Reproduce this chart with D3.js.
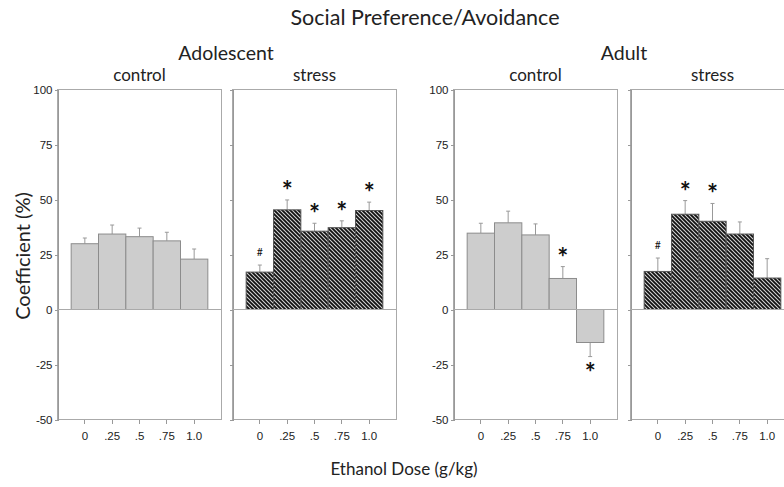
<!DOCTYPE html>
<html>
<head>
<meta charset="utf-8">
<script src="https://cdn.jsdelivr.net/npm/d3@7"></script>
<style>
  body { margin: 0; background: #fff; }
  svg { display: block; font-family: Lato, "Open Sans", sans-serif; }
  .axis path, .axis line { stroke: #999; shape-rendering: crispEdges; }
  .axis text { fill: #222; font-size: 11.5px; }
</style>
</head>
<body>
<svg id="chart" width="784" height="487"></svg>
<script>
// data
var doses = ['0', '.25', '.5', '.75', '1.0'];
var yTicks = [-50, -25, 0, 25, 50, 75, 100];

var adolControl = [29.9, 34.3, 33.1, 31.2, 22.9];
var adolControlErr = [2.6, 4.1, 3.9, 3.9, 4.6];
var adolControlMarks = ['', '', '', '', ''];

var adolStress = [17.0, 45.3, 35.6, 37.2, 45.0];
var adolStressErr = [3.2, 4.5, 3.6, 3.1, 3.8];
var adolStressMarks = ['#', '*', '*', '*', '*'];

var adultControl = [34.7, 39.4, 33.9, 14.1, -15.0];
var adultControlErr = [4.5, 5.3, 5.0, 5.4, 6.4];
var adultControlMarks = ['', '', '', '*', '*'];

var adultStress = [17.3, 43.3, 40.1, 34.3, 14.3];
var adultStressErr = [6.1, 6.2, 8.1, 5.5, 8.8];
var adultStressMarks = ['#', '*', '*', '', ''];

var panels = [
  {label: 'control', left: 57.5, values: adolControl, err: adolControlErr, marks: adolControlMarks, hatched: false, yLabels: true},
  {label: 'stress', left: 232.5, values: adolStress, err: adolStressErr, marks: adolStressMarks, hatched: true, yLabels: false},
  {label: 'control', left: 453.5, values: adultControl, err: adultControlErr, marks: adultControlMarks, hatched: false, yLabels: true},
  {label: 'stress', left: 630.5, values: adultStress, err: adultStressErr, marks: adultStressMarks, hatched: true, yLabels: false}
];

var panelWidth = 164;
var plotTop = 89.5, plotBottom = 419.5;

var svg = d3.select('#chart');

var y = d3.scaleLinear().domain([-50, 100]).range([plotBottom, plotTop]);

// hatch for the stress bars
var defs = svg.append('defs');
var hatch = defs.append('pattern')
  .attr('id', 'hatch')
  .attr('patternUnits', 'userSpaceOnUse')
  .attr('width', 4)
  .attr('height', 4);
hatch.append('rect').attr('width', 4).attr('height', 4).style('fill', '#d4d4d4');
hatch.append('path')
  .attr('d', 'M-1,-1L5,5M-1,3L1,5M3,-1L5,1')
  .style('stroke', '#111')
  .style('stroke-width', 1.8);

// titles
svg.append('text')
  .attr('x', 425).attr('y', 25)
  .attr('text-anchor', 'middle')
  .style('font-size', '21.5px').style('fill', '#222')
  .text('Social Preference/Avoidance');

svg.append('text')
  .attr('x', 226).attr('y', 60)
  .attr('text-anchor', 'middle')
  .style('font-size', '19.5px').style('fill', '#222')
  .text('Adolescent');

svg.append('text')
  .attr('x', 624).attr('y', 60)
  .attr('text-anchor', 'middle')
  .style('font-size', '19.5px').style('fill', '#222')
  .text('Adult');

svg.append('text')
  .attr('x', 404).attr('y', 475)
  .attr('text-anchor', 'middle')
  .style('font-size', '17px').style('fill', '#222')
  .text('Ethanol Dose (g/kg)');

svg.append('text')
  .attr('transform', 'translate(30,256) rotate(-90)')
  .attr('text-anchor', 'middle')
  .style('font-size', '20px').style('fill', '#222')
  .text('Coefficient (%)');

panels.forEach(function(p) {
  var x = d3.scaleBand()
    .domain(doses)
    .range([p.left, p.left + panelWidth])
    .paddingInner(0)
    .paddingOuter(0.5);

  var g = svg.append('g');

  g.append('text')
    .attr('x', p.left + panelWidth / 2).attr('y', 81)
    .attr('text-anchor', 'middle')
    .style('font-size', '17px').style('fill', '#222')
    .text(p.label);

  // frame
  g.append('rect')
    .attr('x', p.left).attr('y', plotTop)
    .attr('width', panelWidth).attr('height', plotBottom - plotTop)
    .style('fill', 'none').style('stroke', '#aaa')
    .style('shape-rendering', 'crispEdges');

  var yAxis = d3.axisLeft(y).tickValues(yTicks).tickSize(3).tickPadding(2)
    .tickFormat(function(d) { return p.yLabels ? String(d) : ''; });
  g.append('g').attr('class', 'axis')
    .attr('transform', 'translate(' + p.left + ',0)')
    .call(yAxis);

  var xAxis = d3.axisBottom(x).tickSize(4).tickPadding(8);
  g.append('g').attr('class', 'axis')
    .attr('transform', 'translate(0,' + plotBottom + ')')
    .call(xAxis)
    .call(function(a) { a.select('.domain').remove(); });

  var data = doses.map(function(d, i) {
    return {dose: d, v: p.values[i], e: p.err[i], mark: p.marks[i]};
  });

  // error bars drawn behind the bars
  var eb = g.append('g').selectAll('g')
    .data(data).enter().append('g');
  eb.append('line')
    .attr('x1', function(d) { return x(d.dose) + x.bandwidth() / 2; })
    .attr('x2', function(d) { return x(d.dose) + x.bandwidth() / 2; })
    .attr('y1', function(d) { return y(d.v); })
    .attr('y2', function(d) { return y(d.v + (d.v < 0 ? -d.e : d.e)); })
    .style('stroke', '#999').style('stroke-width', 1);
  eb.append('line')
    .attr('x1', function(d) { return x(d.dose) + x.bandwidth() / 2 - 2; })
    .attr('x2', function(d) { return x(d.dose) + x.bandwidth() / 2 + 2; })
    .attr('y1', function(d) { return y(d.v + (d.v < 0 ? -d.e : d.e)); })
    .attr('y2', function(d) { return y(d.v + (d.v < 0 ? -d.e : d.e)); })
    .style('stroke', '#999').style('stroke-width', 1);

  g.append('g').selectAll('rect')
    .data(data).enter().append('rect')
    .attr('x', function(d) { return x(d.dose); })
    .attr('width', x.bandwidth())
    .attr('y', function(d) { return y(Math.max(0, d.v)); })
    .attr('height', function(d) { return Math.abs(y(d.v) - y(0)); })
    .style('fill', p.hatched ? 'url(#hatch)' : '#cdcdcd')
    .style('stroke', p.hatched ? '#555' : '#8c8c8c')
    .style('stroke-width', 1);

  // zero line
  g.append('line')
    .attr('x1', p.left).attr('x2', p.left + panelWidth)
    .attr('y1', y(0)).attr('y2', y(0))
    .style('stroke', '#aaa')
    .style('shape-rendering', 'crispEdges');

  // significance marks
  g.append('g').selectAll('text')
    .data(data.filter(function(d) { return d.mark; }))
    .enter().append('text')
    .attr('x', function(d) { return x(d.dose) + x.bandwidth() / 2; })
    .attr('y', function(d) {
      var end = y(d.v + (d.v < 0 ? -d.e : d.e));
      if (d.mark === '#') return end - 9;
      return d.v < 0 ? end + 25 : end;
    })
    .attr('text-anchor', 'middle')
    .style('font-size', function(d) { return d.mark === '#' ? '10.5px' : '26px'; })
    .style('font-weight', function(d) { return d.mark === '#' ? 'normal' : 'bold'; })
    .style('fill', '#111')
    .text(function(d) { return d.mark; });
});
</script>
</body>
</html>
